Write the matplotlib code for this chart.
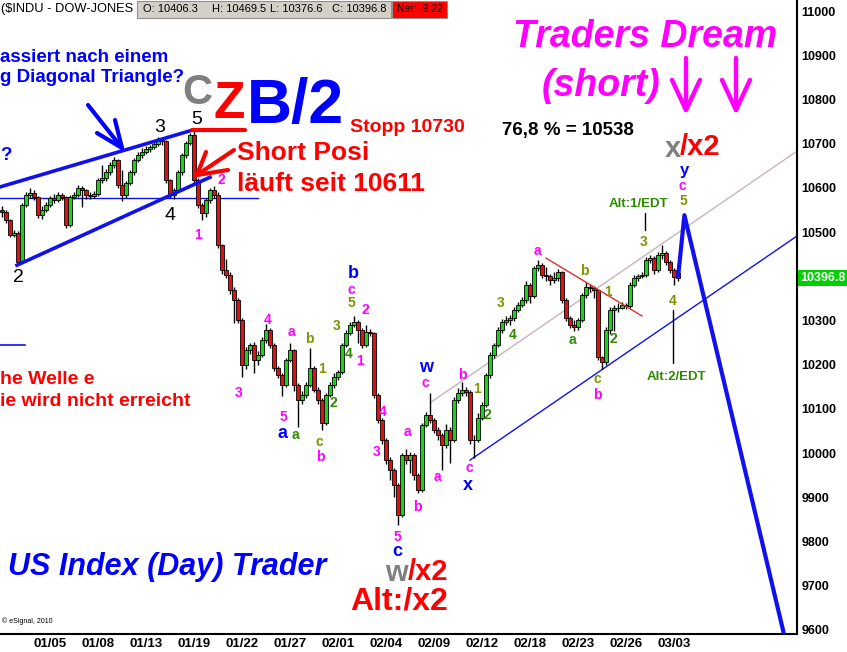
import matplotlib
matplotlib.use('Agg')
import matplotlib.pyplot as plt
import numpy as np
from matplotlib.patches import Rectangle

# ---------------- data (intraday bars, 4 bars per trading day) ----------------
closes = [10545, 10527, 10493, 10498, 10432, 10561, 10584, 10588, 10579, 10538,
          10550, 10561, 10577, 10572, 10584, 10579, 10516, 10579, 10584, 10600,
          10595, 10584, 10581, 10586, 10618, 10622, 10636, 10652, 10663, 10606,
          10584, 10611, 10636, 10663, 10674, 10681, 10688, 10692, 10699, 10708,
          10706, 10618, 10584, 10595, 10636, 10674, 10701, 10719, 10618, 10561,
          10543, 10572, 10595, 10584, 10471, 10414, 10403, 10369, 10346, 10301,
          10199, 10233, 10244, 10210, 10222, 10256, 10278, 10244, 10192, 10176,
          10154, 10210, 10233, 10154, 10120, 10131, 10154, 10192, 10143, 10120,
          10068, 10131, 10154, 10172, 10183, 10244, 10271, 10290, 10296, 10278,
          10244, 10274, 10271, 10131, 10075, 10029, 9984, 9962, 9928, 9860,
          9995, 9984, 9995, 9950, 9916, 10063, 10086, 10075, 10052, 10041,
          10018, 10052, 10029, 10120, 10136, 10143, 10138, 10029, 10029, 10079,
          10109, 10176, 10222, 10244, 10278, 10296, 10301, 10305, 10324, 10335,
          10346, 10380, 10355, 10419, 10425, 10403, 10400, 10391, 10396, 10410,
          10346, 10305, 10290, 10285, 10301, 10357, 10376, 10373, 10369, 10217,
          10206, 10278, 10324, 10328, 10328, 10335, 10333, 10380, 10396, 10400,
          10403, 10437, 10441, 10414, 10448, 10452, 10432, 10414, 10398, 10396.8]
highs = [10560, 10550, 10530, 10505, 10502, 10566, 10590, 10600, 10595, 10582,
         10558, 10568, 10582, 10586, 10590, 10588, 10582, 10584, 10590, 10606,
         10604, 10598, 10590, 10592, 10622, 10652, 10642, 10658, 10670, 10666,
         10640, 10616, 10640, 10668, 10680, 10690, 10694, 10698, 10706, 10714,
         10712, 10708, 10620, 10600, 10640, 10678, 10706, 10725, 10731, 10622,
         10565, 10576, 10600, 10605, 10590, 10474, 10440, 10410, 10375, 10350,
         10305, 10240, 10250, 10252, 10230, 10262, 10292, 10282, 10248, 10196,
         10180, 10215, 10250, 10236, 10158, 10140, 10160, 10238, 10196, 10150,
         10125, 10136, 10160, 10180, 10188, 10250, 10278, 10296, 10310, 10300,
         10282, 10290, 10280, 10274, 10136, 10080, 10034, 9990, 9966, 9932,
         10000, 10008, 10003, 10000, 9955, 10068, 10092, 10136, 10080, 10058,
         10046, 10066, 10058, 10126, 10146, 10160, 10150, 10142, 10040, 10090,
         10115, 10180, 10228, 10250, 10284, 10304, 10310, 10312, 10330, 10342,
         10352, 10390, 10385, 10424, 10436, 10430, 10420, 10406, 10410, 10416,
         10412, 10350, 10310, 10300, 10306, 10362, 10386, 10382, 10378, 10372,
         10220, 10284, 10330, 10336, 10340, 10342, 10340, 10386, 10402, 10406,
         10410, 10444, 10448, 10445, 10455, 10470, 10458, 10436, 10418, 10410]
lows = [10535, 10520, 10488, 10488, 10425, 10430, 10556, 10578, 10572, 10532,
        10530, 10545, 10556, 10565, 10568, 10572, 10510, 10512, 10574, 10580,
        10556, 10575, 10574, 10576, 10582, 10610, 10615, 10630, 10645, 10600,
        10570, 10578, 10606, 10630, 10658, 10668, 10676, 10682, 10688, 10694,
        10698, 10612, 10578, 10574, 10590, 10630, 10668, 10696, 10612, 10555,
        10528, 10535, 10566, 10578, 10465, 10405, 10395, 10360, 10294, 10295,
        10172, 10190, 10225, 10180, 10200, 10218, 10250, 10238, 10185, 10170,
        10130, 10150, 10205, 10140, 10058, 10112, 10125, 10150, 10138, 10110,
        10052, 10064, 10126, 10148, 10166, 10178, 10240, 10266, 10286, 10250,
        10238, 10240, 10265, 10125, 10068, 10020, 9975, 9940, 9900, 9836,
        9855, 9976, 9955, 9940, 9910, 9912, 10058, 10068, 10045, 10030,
        9962, 10012, 9977, 10025, 10114, 10130, 10128, 10020, 9989, 10024,
        10074, 10104, 10170, 10216, 10240, 10272, 10290, 10290, 10298, 10318,
        10330, 10340, 10340, 10350, 10412, 10396, 10390, 10380, 10385, 10390,
        10340, 10298, 10282, 10276, 10278, 10296, 10350, 10364, 10350, 10210,
        10190, 10200, 10270, 10275, 10320, 10325, 10325, 10328, 10375, 10390,
        10395, 10398, 10430, 10405, 10410, 10440, 10426, 10408, 10380, 10390]
first_open = 10550
last_open = 10406.3

tick_labels = ['01/05', '01/08', '01/13', '01/19', '01/22', '01/27', '02/01',
               '02/04', '02/09', '02/12', '02/18', '02/23', '02/26', '03/03']
bars_per_day = 4
first_tick_day = 3
days_between_ticks = 3

last_price = 10396.8
header_ohlc = ['O: 10406.3', 'H: 10469.5', 'L: 10376.6', 'C: 10396.8']
net_change = 'Net: -9.22'
target_price = 10538

# ---------------- figure ----------------
W, H = 847, 652
plt.rcParams['font.family'] = ['Liberation Sans', 'DejaVu Sans']
fig = plt.figure(figsize=(W / 100, H / 100), dpi=100)
fig.patch.set_facecolor('white')

ax = fig.add_axes([0, 18 / H, 797 / W, 634 / H])
ax.set_facecolor('white')
n = len(closes)
idx = np.arange(n)
opens = np.array([first_open] + closes[:-2] + [last_open], dtype=float)
cl = np.array(closes, dtype=float)
up = cl >= opens

ax.vlines(idx, lows, highs, color='black', lw=1.0, zorder=3)
ax.bar(idx[up], (cl - opens)[up], bottom=opens[up], width=0.78,
       color='#19D219', edgecolor='black', lw=0.6, zorder=4)
ax.bar(idx[~up], (cl - opens)[~up], bottom=opens[~up], width=0.78,
       color='#E01010', edgecolor='black', lw=0.6, zorder=4)

ax.set_xlim(-0.5, 198.75)
ax.set_ylim(9590.5, 11025)
for s in ['top', 'left']:
    ax.spines[s].set_visible(False)
for s in ['right', 'bottom']:
    ax.spines[s].set_color('black')
    ax.spines[s].set_linewidth(1.5)

ax.yaxis.tick_right()
yt = [v for v in range(9600, 11001, 100) if v != 10400]
ax.set_yticks(yt)
ax.set_yticklabels([str(v) for v in yt], fontweight='bold', fontsize=9)
ax.tick_params(axis='y', length=0, pad=3)
tick_pos = [(first_tick_day + k * days_between_ticks) * bars_per_day for k in range(len(tick_labels))]
ax.set_xticks(tick_pos)
ax.set_xticklabels(tick_labels, fontweight='bold', fontsize=9.5,
                   family=['Liberation Sans Narrow', 'Liberation Sans'])
ax.tick_params(axis='x', length=0, pad=3)

ax.annotate(f'{last_price:.1f}', xy=(1.0, last_price), xycoords=('axes fraction', 'data'),
            xytext=(2, 0), textcoords='offset points', ha='left', va='center',
            color='white', fontweight='bold', fontsize=9,
            bbox=dict(boxstyle='square,pad=0.15', fc='#00D000', ec='none'),
            annotation_clip=False)

# wedge and channel lines (data coordinates)
ax.plot([-0.5, 47.75], [10602, 10731], color='#1010F0', lw=2.6, zorder=5)
ax.plot([3.75, 52], [10425, 10624], color='#1010F0', lw=2.6, zorder=5)
ax.plot([-0.5, 64], [10577, 10577], color='#1010F0', lw=1.0, zorder=2)
ax.plot([-0.5, 5.75], [10244, 10244], color='#1010F0', lw=1.2, zorder=2)
ax.plot([107.25, 198.75], [10115, 10683], color='#C8B4BC', lw=1.0, zorder=2)
ax.plot([117, 198.75], [9984, 10491], color='#1010F0', lw=1.0, zorder=2)
ax.plot([136, 160], [10441, 10310], color='#E03030', lw=1.0, zorder=5)
ax.plot([n - 1, n + 0.6, 195.5], [last_price, target_price, 9590], color='#1010F0',
        lw=3.0, zorder=6, solid_capstyle='butt')

# ---------------- overlay in pixel coordinates ----------------
ov = fig.add_axes([0, 0, 1, 1], zorder=10)
ov.set_xlim(0, W)
ov.set_ylim(H, 0)
ov.axis('off')
ov.patch.set_alpha(0)


def t(x, y, s, c, size, weight='bold', style='normal', ha='center'):
    ov.text(x, y, s, color=c, fontsize=size, fontweight=weight, fontstyle=style,
            ha=ha, va='center')


def ln(xs, ys, c, lw):
    ov.plot(xs, ys, color=c, lw=lw, solid_capstyle='round')


# header
t(1, 9, '($INDU - DOW-JONES', 'black', 9.3, weight='normal', ha='left')
ov.add_patch(Rectangle((137, 1), 254, 17, fc='#D4D0C8', ec='#909090', lw=0.8))
for xx, s in zip([143, 212, 270, 332], header_ohlc):
    t(xx, 9.5, s, 'black', 8, weight='normal', ha='left')
ov.add_patch(Rectangle((392, 1), 55, 17, fc='#FF0000', ec='#909090', lw=0.8))
t(397, 9.5, net_change, 'black', 7.5, weight='normal', ha='left')

MAG = '#FF00FF'
BLU = '#0000FF'
RED = '#FF0000'
OLV = '#7E9400'
GRN = '#2E8B00'
GRY = '#808080'

t(645, 37, 'Traders Dream', MAG, 27, style='italic')
t(601, 86, '(short)', MAG, 27, style='italic')
for ax0 in [686, 736]:
    ln([ax0, ax0], [58, 110], MAG, 3.2)
    ln([ax0 - 14, ax0, ax0 + 14], [80, 110, 80], MAG, 3.2)

t(568, 130, '76,8 % = 10538', 'black', 13.5)
t(681, 149, 'x', GRY, 21, ha='right')
t(680, 147, '/x2', RED, 21, ha='left')
t(684, 170, 'y', BLU, 12)
t(682, 186, 'c', MAG, 10)
t(683, 201, '5', OLV, 10)
t(638, 204, 'Alt:1/EDT', GRN, 9.5)
ln([645, 645], [213, 230], 'black', 1)
t(676, 377, 'Alt:2/EDT', GRN, 9.5)
ln([673, 673], [310, 363], 'black', 1)

# left texts
t(0, 57, 'assiert nach einem', BLU, 13.5, ha='left')
t(0, 78, 'g Diagonal Triangle?', BLU, 13.5, ha='left')
t(0, 155, '?', BLU, 13.5, ha='left')
t(0, 380, 'he Welle e', RED, 14, ha='left')
t(0, 402, 'ie wird nicht erreicht', RED, 14, ha='left')
t(8, 567, 'US Index (Day) Trader', BLU, 22, style='italic', ha='left')
t(2, 621, '\u00a9 eSignal, 2010', 'black', 5, weight='normal', ha='left')

# big wave title
t(197, 93, 'C', GRY, 30)
t(229, 104, 'Z', RED, 37)
ln([192, 245], [130, 130], RED, 3)
t(295, 106, 'B/2', BLU, 45)
t(350, 127, 'Stopp 10730', RED, 14, ha='left')
t(237, 153, 'Short Posi', RED, 19, ha='left')
t(237, 184, 'l\u00e4uft seit 10611', RED, 19, ha='left')

# arrows
ln([88, 122], [105, 148], BLU, 3)
ln([115, 122], [120, 148], BLU, 3)
ln([97, 122], [133, 148], BLU, 3)
ln([234, 197], [150, 175], RED, 3)
ln([228, 197], [170, 175], RED, 3)
ln([206, 197], [152, 175], RED, 3)

t(396, 573, 'w', GRY, 21)
t(408, 572, '/x2', RED, 21, ha='left')
t(399, 602, 'Alt:/x2', RED, 23)

# wave labels
for x, y, s in [(18, 277, '2'), (160, 127, '3'), (197, 120, '5'), (170, 216, '4')]:
    t(x, y, s, 'black', 14, weight='normal')
for x, y, s in [(198, 235, '1'), (221, 180, '2'), (239, 393, '3'), (268, 320, '4'),
                (283, 417, '5'), (291, 332, 'a'), (320, 457, 'b'), (351, 290, 'c'),
                (365, 310, '2'), (360, 361, '1'), (383, 412, '4'), (377, 452, '3'),
                (407, 432, 'a'), (397, 537, '5'), (417, 507, 'b'), (425, 383, 'c'),
                (437, 477, 'a'), (462, 375, 'b'), (469, 468, 'c'), (537, 251, 'a'),
                (597, 395, 'b')]:
    t(x, y, s, MAG, 10)
for x, y, s in [(282, 433, 'a'), (353, 273, 'b'), (397, 551, 'c'), (426, 368, 'w'),
                (468, 485, 'x')]:
    t(x, y, s, BLU, 13)
for x, y, s in [(309, 339, 'b'), (322, 369, '1'), (319, 442, 'c'), (337, 326, '3'),
                (351, 303, '5'), (477, 389, '1'), (501, 303, '3'), (584, 271, 'b'),
                (608, 292, '1'), (597, 379, 'c'), (644, 242, '3'), (673, 301, '4')]:
    t(x, y, s, OLV, 10)
for x, y, s in [(295, 435, 'a'), (333, 403, '2'), (349, 354, '4'), (487, 415, '2'),
                (513, 335, '4'), (572, 340, 'a'), (613, 339, '2')]:
    t(x, y, s, GRN, 10)

fig.savefig('out.png', dpi=100, facecolor='white')
